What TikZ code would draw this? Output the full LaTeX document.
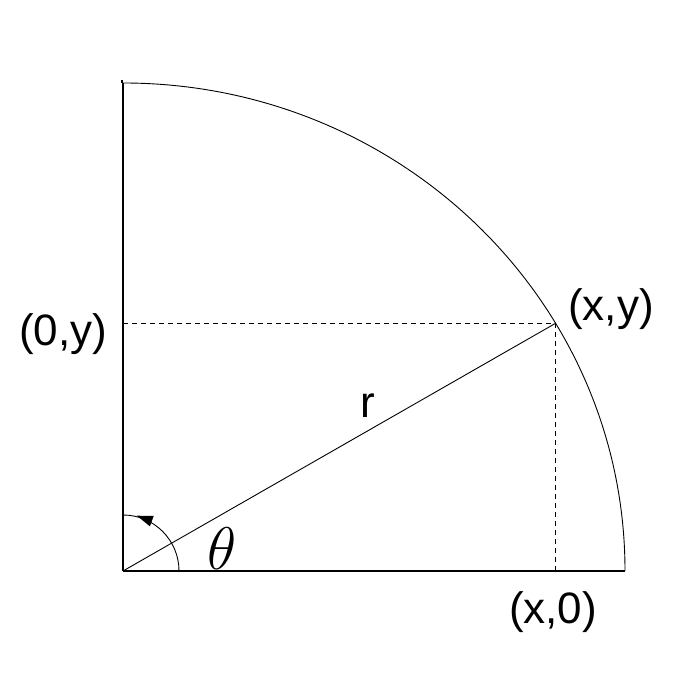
\documentclass[tikz,border=0pt]{standalone}
\usepackage{fontspec}
\setmainfont{Liberation Sans}
\usetikzlibrary{arrows.meta,calc}
\begin{document}
\begin{tikzpicture}[x=1pt,y=1pt,
  axis/.style={line width=1.3pt},
  thin line/.style={line width=0.9pt},
  dash line/.style={line width=0.9pt, dash pattern=on 5pt off 4pt},
  lbl/.style={font=\fontsize{44}{48}\selectfont, inner sep=0pt},
  greek/.style={font=\fontsize{20}{24}\selectfont, scale=2.9, inner sep=0pt}]
\useasboundingbox (0,0) rectangle (685,682);
\coordinate (O) at (123,111);
\coordinate (Y) at (123,599);
\coordinate (X) at (625,111);
\coordinate (P) at ($(O)+({502*cos(30.5)},{488*sin(30.5)})$);
\coordinate (Px) at (O -| P);
\coordinate (Py) at (O |- P);
\coordinate (A0) at ($(O)+(56,0)$);
\coordinate (T) at ($(O)+({57*cos(76)},{57*sin(76)})$);
\coordinate (B) at ($(T)+({16*sin(70)},{-16*cos(70)})$);
% axes
\draw[axis] (O) -- (X);
\draw[axis] (O) -- (Y);
\draw[axis] ($(Y)+(-1,0)$) -- ++(0,3);
% quarter ellipse
\draw[thin line] (X) arc[start angle=0, end angle=90, x radius=502, y radius=488];
% radius
\draw[thin line] (O) -- (P);
% dashed projections
\draw[dash line] (Py) -- (P);
\draw[dash line] (P) -- (Px);
% angle marker
\draw[thin line] (A0) arc[start angle=0, end angle=90, radius=56];
\fill (T) -- ($(B)+({5.5*cos(70)},{5.5*sin(70)})$) -- ($(B)+({-5.5*cos(70)},{-5.5*sin(70)})$) -- cycle;
% labels
\node[lbl] (ly) at (63,348) {(0,y)};
\node[lbl] (lxy) at (611,373) {(x,y)};
\node[lbl] (lx) at (553,70) {(x,0)};
\node[lbl] (lr) at (368,276) {r};
\node[greek] (lt) at (222,133) {$\theta$};
\end{tikzpicture}
\end{document}
